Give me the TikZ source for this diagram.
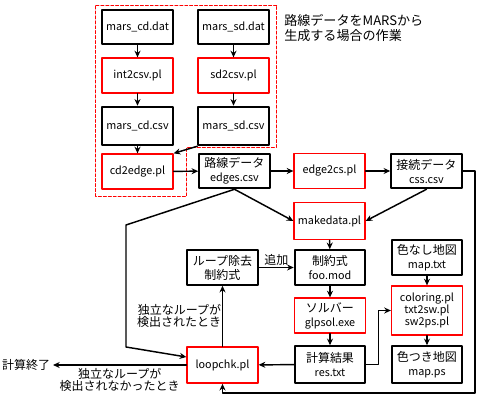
\documentclass[tikz,border=0pt]{standalone}
\usepackage{fontspec}
\setmainfont{Noto Sans CJK JP}
\usetikzlibrary{arrows.meta}
\newcommand\en[1]{{\fontsize{8.1}{10.5}\selectfont #1}}

\begin{document}
\begin{tikzpicture}[x=0.75pt,y=-0.75pt,line cap=round,line join=round,>={Stealth[length=5pt,width=4.5pt]},
	font=\fontsize{9}{10.5}\selectfont,
	file/.style={draw=black,line width=1.4pt,minimum width=53pt,minimum height=26pt,align=center,inner sep=1pt},
	prog/.style={file,draw=red,line width=1.2pt},
	link/.style={->,line width=1.1pt},
	note/.style={inner sep=1pt,font=\fontsize{9}{9}\selectfont}]
	\useasboundingbox (0,0) rectangle (480,400);
	% work area for MARS
	\draw[red,line width=0.75pt,dash pattern=on 2.2pt off 1.5pt] (96,5) -- (277,5) -- (277,147) -- (187,147) -- (187,196) -- (96,196) -- cycle;
	\node[anchor=west,align=left,inner sep=0pt,font=\fontsize{9.8}{11.3}\selectfont] (marsnote) at (284,28) {路線データをMARSから\\生成する場合の作業};
	\node[file] (cddat) at (137.5,27) {\en{mars\_cd.dat}};
	\node[file] (sddat) at (233.5,27) {\en{mars\_sd.dat}};
	\node[prog] (int2csv) at (137.5,75.5) {\en{int2csv.pl}};
	\node[prog] (sd2csv) at (233.5,75.5) {\en{sd2csv.pl}};
	\node[file,minimum height=29pt] (cdcsv) at (137.5,126) {\en{mars\_cd.csv}};
	\node[file,minimum height=29pt] (sdcsv) at (233.5,126) {\en{mars\_sd.csv}};
	\node[prog] (cd2edge) at (137.5,171.5) {\en{cd2edge.pl}};
	% main flow
	\node[file] (edges) at (234.5,171) {路線データ\\\en{edges.csv}};
	\node[prog] (edge2cs) at (329.5,171) {\en{edge2cs.pl}};
	\node[file] (css) at (426.5,171) {接続データ\\\en{css.csv}};
	\node[prog,minimum height=28pt] (makedata) at (329.5,221) {\en{makedata.pl}};
	\node[file] (foo) at (330,267.5) {制約式\\\en{foo.mod}};
	\node[prog] (glpsol) at (330,315.5) {ソルバー\\\en{glpsol.exe}};
	\node[file,minimum height=27.5pt] (res) at (330,364.5) {計算結果\\\en{res.txt}};
	\node[file] (maptxt) at (427,257.5) {色なし地図\\\en{map.txt}};
	\node[prog,minimum height=36.5pt,font=\fontsize{8.1}{8.7}\selectfont] (coloring) at (427,310.5) {coloring.pl\\txt2sw.pl\\sw2ps.pl};
	\node[file,minimum height=27.5pt] (mapps) at (427,364.5) {色つき地図\\\en{map.ps}};
	\node[file] (loopdel) at (222.5,267.5) {ループ除去\\制約式};
	\node[prog,minimum height=27pt] (loopchk) at (222.5,365) {\en{loopchk.pl}};
	\node[anchor=east,inner sep=2pt] (done) at (53,365) {計算終了};
	\coordinate (c1) at (126,225);
	\coordinate (c2) at (126,347);
	\coordinate (fb1) at (475,171);
	\coordinate (fb2) at (475,393);
	\coordinate (fb3) at (222.5,393);
	% arrows
	\draw[link] (cddat) -- (int2csv);
	\draw[link] (int2csv) -- (cdcsv);
	\draw[link] (cdcsv) -- (cd2edge);
	\draw[link] (sddat) -- (sd2csv);
	\draw[link] (sd2csv) -- (sdcsv);
	\draw[link] (sdcsv.south west) -- (cd2edge.north east);
	\draw[link] (cd2edge) -- (edges);
	\draw[link] (edges) -- (edge2cs);
	\draw[link] (edge2cs) -- (css);
	\draw[link] (edges.south) -- (makedata.west);
	\draw[link] (css.south) -- (makedata.east);
	\draw[link] (makedata) -- (foo);
	\draw[link] (foo) -- (glpsol);
	\draw[link] (glpsol) -- (res);
	\draw[link] (maptxt) -- (coloring);
	\draw[link] (coloring) -- (mapps);
	\draw[link] (res.east) -- ++(12,0) |- (coloring.west);
	\draw[link] (res) -- (loopchk);
	\draw[link] (loopdel) -- (foo) node[midway,above,inner sep=1pt] {追加};
	\draw[link] (loopchk) -- (loopdel) node[midway,left,note,align=right,inner sep=0.5pt] {独立なループが\\検出されたとき};
	\draw[link] (loopchk) -- (done) node[midway,below,note,align=center,yshift=-1pt] {独立なループが\\検出されなかったとき};
	\draw[link] (edges.south) -- (c1) -- (c2) -- ([yshift=6pt]loopchk.west);
	\draw[link] (css.east) -- (fb1) -- (fb2) -- (fb3) -- (loopchk.south);
\end{tikzpicture}
\end{document}
